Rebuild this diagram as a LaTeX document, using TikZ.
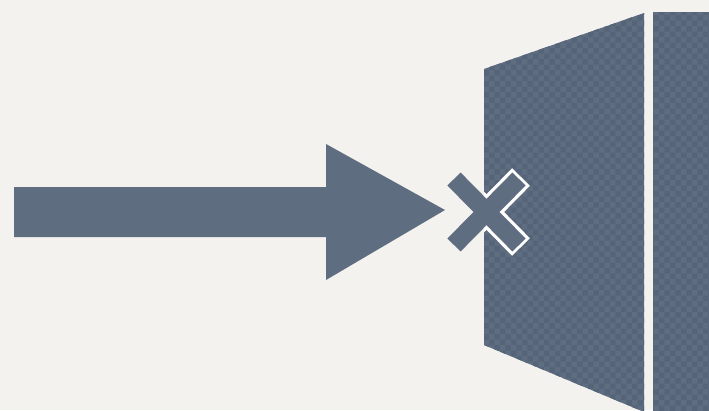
\documentclass[tikz,border=0pt]{standalone}
\usetikzlibrary{patterns}
\definecolor{bg}{HTML}{F3F2EE}
\definecolor{slate}{HTML}{5F6D80}
\definecolor{slatedark}{HTML}{56647A}
\tikzset{
  shapefill/.style={fill=slate},
  hatch/.style={pattern=checkerboard, pattern color=slatedark},
  crossarm/.style={line width=18.5pt, draw=slate, line cap=butt},
  crossedge/.style={line width=25pt, draw=white, line cap=butt}
}
\begin{document}
\begin{tikzpicture}[x=1pt,y=-1pt]
  \fill[bg] (0,0) rectangle (709,410);
  \useasboundingbox (0,0) rectangle (709,410);
  % arrow
  \fill[shapefill] (14,187) -- (326,187) -- (326,144) -- (445,210) -- (326,280) -- (326,237) -- (14,237) -- cycle;
  % wall
  \path[shapefill] (484,69) -- (644,13) -- (644,412) -- (484,345) -- cycle;
  \path[hatch] (484,69) -- (644,13) -- (644,412) -- (484,345) -- cycle;
  \path[shapefill] (653,12) rectangle (712,414);
  \path[hatch] (653,12) rectangle (712,414);
  % cross outline (only over the wall)
  \begin{scope}
    \clip (484,69) -- (644,13) -- (644,412) -- (484,345) -- cycle;
    \draw[crossedge] (452,177) -- (521,247);
    \draw[crossedge] (452,247) -- (521,177);
  \end{scope}
  \draw[crossarm] (454,179) -- (519,245);
  \draw[crossarm] (454,245) -- (519,179);
\end{tikzpicture}
\end{document}
